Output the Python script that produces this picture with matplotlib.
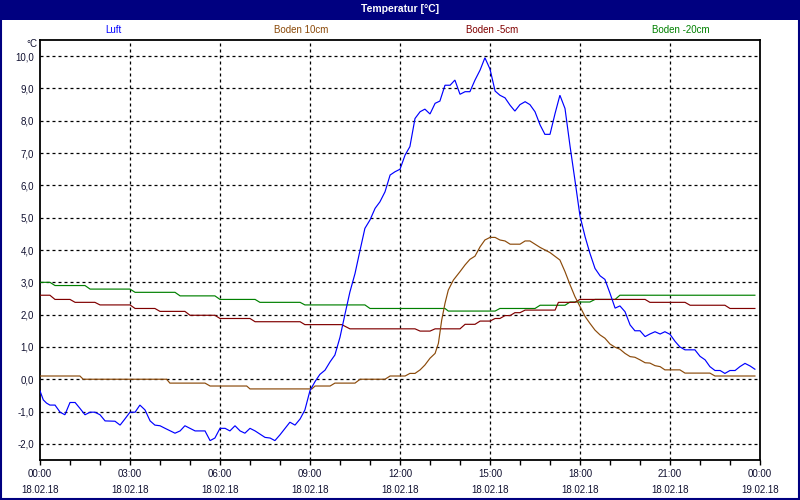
import matplotlib
matplotlib.use("Agg")
import matplotlib.pyplot as plt
from matplotlib.patches import Rectangle
from matplotlib.ticker import FixedLocator, FuncFormatter

# ---------------- data (hours since 18.02.18 00:00, °C) ----------------
luft_t = [0.0, 0.11, 0.22, 0.33, 0.5, 0.67, 0.83, 1.0, 1.17, 1.33, 1.5, 1.67, 1.83, 2.0,
          2.17, 2.5, 2.67, 2.83, 3.0, 3.17, 3.33, 3.5, 3.67, 3.83, 4.0, 4.17, 4.5, 4.67,
          4.83, 5.0, 5.17, 5.5, 5.67, 5.83, 6.0, 6.17, 6.33, 6.5, 6.67, 6.83, 7.0, 7.17,
          7.5, 7.67, 7.83, 8.0, 8.33, 8.5, 8.67, 8.83, 9.0, 9.17, 9.33, 9.5, 9.67, 9.83,
          10.0, 10.17, 10.33, 10.5, 10.67, 10.83, 11.0, 11.17, 11.33, 11.5, 11.67, 11.83,
          12.0, 12.17, 12.33, 12.5, 12.67, 12.83, 13.0, 13.17, 13.33, 13.5, 13.67, 13.83,
          14.0, 14.17, 14.33, 14.5, 14.67, 14.83, 15.0, 15.17, 15.33, 15.5, 15.67, 15.83,
          16.0, 16.17, 16.33, 16.5, 16.67, 16.83, 17.0, 17.17, 17.33, 17.5, 17.67, 17.83,
          18.0, 18.17, 18.33, 18.5, 18.67, 18.83, 19.0, 19.17, 19.33, 19.5, 19.67, 19.83,
          20.0, 20.17, 20.33, 20.5, 20.67, 20.83, 21.0, 21.17, 21.33, 21.5, 21.83, 22.0,
          22.17, 22.33, 22.5, 22.67, 22.83, 23.0, 23.17, 23.33, 23.5, 23.67, 23.83]
luft_v = [-0.36, -0.64, -0.74, -0.8, -0.8, -1.02, -1.1, -0.72, -0.72, -0.9, -1.1, -1.02, -1.02, -1.1,
          -1.29, -1.3, -1.42, -1.23, -1.02, -1.02, -0.8, -0.95, -1.29, -1.42, -1.44, -1.52, -1.67, -1.6,
          -1.44, -1.52, -1.6, -1.6, -1.9, -1.82, -1.52, -1.52, -1.6, -1.44, -1.6, -1.67, -1.52, -1.6,
          -1.8, -1.82, -1.9, -1.72, -1.33, -1.42, -1.23, -0.95, -0.35, -0.07, 0.15, 0.28, 0.54, 0.75,
          1.3, 2.03, 2.7, 3.27, 4.0, 4.67, 4.93, 5.29, 5.49, 5.8, 6.32, 6.42,
          6.5, 6.94, 7.2, 8.07, 8.28, 8.36, 8.21, 8.54, 8.61, 9.1, 9.1, 9.26,
          8.82, 8.9, 8.9, 9.26, 9.57, 9.95, 9.6, 8.92, 8.79, 8.71, 8.48, 8.3,
          8.5, 8.59, 8.5, 8.28, 7.87, 7.58, 7.58, 8.23, 8.79, 8.38, 7.2, 6.17,
          5.05, 4.41, 3.9, 3.43, 3.2, 3.09, 2.66, 2.2, 2.27, 2.09, 1.68, 1.5,
          1.5, 1.32, 1.4, 1.47, 1.4, 1.47, 1.39, 1.17, 1.0, 0.91, 0.91, 0.71,
          0.6, 0.39, 0.27, 0.27, 0.18, 0.27, 0.27, 0.39, 0.49, 0.41, 0.31]

b10_t = [0, 1.33, 1.44, 4.22, 4.33, 5.5, 5.67, 6.89, 7.0, 9.06, 9.17, 9.67, 9.83, 10.5,
         10.67, 11.5, 11.67, 12.17, 12.33, 12.5, 12.67, 12.83, 13.0, 13.17, 13.28, 13.39,
         13.5, 13.61, 13.78, 14.0, 14.17, 14.33, 14.5, 14.67, 14.83, 15.0, 15.17, 15.33,
         15.5, 15.67, 16.0, 16.17, 16.33, 16.5, 16.67, 17.0, 17.33, 17.5, 17.67, 17.83,
         18.0, 18.17, 18.33, 18.5, 18.67, 18.83, 19.0, 19.17, 19.33, 19.5, 19.67, 19.83,
         20.0, 20.17, 20.33, 20.5, 20.67, 20.83, 21.33, 21.5, 22.33, 22.5, 23.83]
b10_v = [0.1, 0.1, 0.0, 0.0, -0.12, -0.12, -0.21, -0.21, -0.3, -0.3, -0.21, -0.21, -0.12, -0.12,
         0.0, 0.0, 0.1, 0.1, 0.18, 0.18, 0.29, 0.44, 0.65, 0.8, 1.11, 1.83,
         2.35, 2.76, 3.07, 3.33, 3.54, 3.71, 3.81, 4.1, 4.31, 4.39, 4.39, 4.31,
         4.28, 4.18, 4.18, 4.28, 4.28, 4.18, 4.08, 3.92, 3.69, 3.33, 2.92, 2.56,
         2.25, 1.94, 1.73, 1.52, 1.37, 1.27, 1.09, 0.99, 0.93, 0.8, 0.7, 0.68,
         0.6, 0.51, 0.5, 0.42, 0.39, 0.29, 0.29, 0.19, 0.19, 0.1, 0.1]

b5_t = [0, 0.33, 0.5, 1.0, 1.17, 1.83, 2.0, 3.0, 3.17, 3.83, 4.0, 4.83, 5.0, 5.83, 6.0, 7.0,
        7.17, 8.67, 8.83, 10.06, 10.33, 12.5, 12.67, 13.0, 13.17, 14.0, 14.17, 14.5, 14.67,
        15.0, 15.17, 15.33, 15.5, 15.67, 15.83, 16.0, 16.17, 17.17, 17.28, 17.83, 18.0,
        20.17, 20.33, 21.5, 21.67, 22.83, 23.0, 23.83]
b5_v = [2.6, 2.6, 2.47, 2.47, 2.38, 2.38, 2.3, 2.3, 2.19, 2.19, 2.1, 2.1, 1.98, 1.98, 1.88, 1.88,
        1.78, 1.78, 1.69, 1.69, 1.56, 1.56, 1.49, 1.49, 1.56, 1.56, 1.7, 1.7, 1.8,
        1.8, 1.88, 1.88, 1.97, 1.97, 2.06, 2.06, 2.14, 2.14, 2.38, 2.38, 2.47,
        2.47, 2.38, 2.38, 2.29, 2.29, 2.19, 2.19]

b20_t = [0, 0.33, 0.5, 1.5, 1.67, 3.0, 3.17, 4.5, 4.67, 5.83, 6.0, 7.17, 7.33, 8.67, 8.83,
         10.83, 11.0, 13.5, 13.61, 15.17, 15.33, 16.5, 16.67, 17.5, 17.67, 18.33, 18.5,
         19.17, 19.33, 23.83]
b20_v = [3.0, 3.0, 2.9, 2.9, 2.79, 2.79, 2.69, 2.69, 2.58, 2.58, 2.47, 2.47, 2.38, 2.38, 2.3,
         2.3, 2.19, 2.19, 2.11, 2.11, 2.19, 2.19, 2.29, 2.29, 2.39, 2.39, 2.47,
         2.47, 2.6, 2.6]

series_names = ["Luft", "Boden 10cm", "Boden -5cm", "Boden -20cm"]
series_colors = ["#0000FF", "#8B4A0A", "#800000", "#008000"]
x_tick_hours = [0, 3, 6, 9, 12, 15, 18, 21, 24]
x_tick_labels = ["00:00\n18.02.18", "03:00\n18.02.18", "06:00\n18.02.18", "09:00\n18.02.18",
                 "12:00\n18.02.18", "15:00\n18.02.18", "18:00\n18.02.18", "21:00\n18.02.18",
                 "00:00\n19.02.18"]
y_ticks = [-2, -1, 0, 1, 2, 3, 4, 5, 6, 7, 8, 9, 10]
title_text = "Temperatur [°C]"
unit_text = "°C"

# ---------------- figure ----------------
plt.rcParams['font.family'] = ['Liberation Sans', 'DejaVu Sans']
W, H = 800, 500
fig = plt.figure(figsize=(W / 100, H / 100), dpi=100)
fig.patch.set_facecolor("white")

navy = "#000080"
# title bar
fig.patches.append(Rectangle((0, 1 - 20 / H), 1, 20 / H, transform=fig.transFigure,
                             facecolor=navy, edgecolor="none", zorder=0))
fig.patches.append(Rectangle((1 / W, 1 / H), 1 - 2 / W, 1 - 2 / H, transform=fig.transFigure,
                             facecolor="none", edgecolor=navy, linewidth=1.5, zorder=5))
fig.text(0.5, 1 - 9.5 / H, title_text, color="white", fontsize=7.5, fontweight="bold",
         ha="center", va="center")

# legend row
legend_x = [113, 301, 492, 681]
for name, col, lx in zip(series_names, series_colors, legend_x):
    fig.text(lx / W, 1 - 30 / H, name, color=col, fontsize=7, ha="center", va="center")

ax = fig.add_axes([40 / W, 40 / H, 720 / W, 420 / H])
ax.set_xlim(0, 24)
ax.set_ylim(-2.5, 10.5)

for t, v, col, z in [(b20_t, b20_v, series_colors[3], 3),
                     (b5_t, b5_v, series_colors[2], 3),
                     (b10_t, b10_v, series_colors[1], 4),
                     (luft_t, luft_v, series_colors[0], 5)]:
    ax.plot(t, v, color=col, linewidth=0.85, zorder=z, solid_joinstyle="miter")

# grid
for yv in y_ticks:
    ax.axhline(yv, color="black", linewidth=0.9, linestyle=(0, (2.4, 2.4)), zorder=1)
for xv in x_tick_hours[1:-1]:
    ax.axvline(xv, color="black", linewidth=0.9, linestyle=(0, (2.4, 2.4)), zorder=1)

for sp in ax.spines.values():
    sp.set_color("black")
    sp.set_linewidth(1.3)

ax.xaxis.set_major_locator(FixedLocator(x_tick_hours))
ax.xaxis.set_minor_locator(FixedLocator(list(range(0, 25))))
ax.set_xticklabels(x_tick_labels, fontsize=7, color="#101030", linespacing=1.75)
ax.tick_params(axis="x", which="both", direction="out", length=3.5, width=1.0, pad=3)
ax.yaxis.set_major_locator(FixedLocator(y_ticks))
ax.yaxis.set_major_formatter(FuncFormatter(lambda v, p: f"{v:.1f}".replace(".", ",")))
ax.tick_params(axis="y", which="both", length=0, pad=4.5, labelsize=7, labelcolor="#101030")

fig.text(37 / W, 1 - 44 / H, unit_text, fontsize=7, color="#101030", ha="right", va="center")

fig.savefig("out.png", dpi=100, facecolor="white")
